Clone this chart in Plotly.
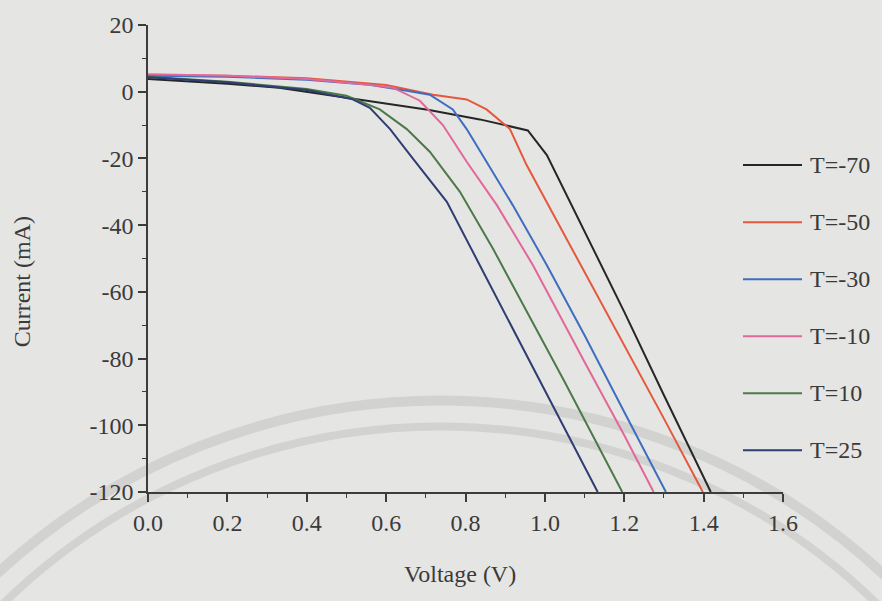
import plotly.graph_objects as go

# I-V curves of the cell at several temperatures (voltage in V, current in mA)
names = ["T=-70", "T=-50", "T=-30", "T=-10", "T=10", "T=25"]
colors = ["#262626", "#e5583d", "#3e6dc2", "#e2679a", "#4b7a48", "#2f3d72"]

v_m70 = [0, 0.1, 0.2, 0.33, 0.5, 0.6, 0.705, 0.836, 0.957, 1.005, 1.1, 1.2, 1.3, 1.418]
i_m70 = [3.8, 3.2, 2.4, 1.2, -1.8, -3.5, -5.4, -8.3, -11.6, -19, -42, -66, -91, -120]

v_m50 = [0, 0.2, 0.4, 0.6, 0.718, 0.803, 0.853, 0.912, 0.954, 1.1, 1.2, 1.3, 1.398]
i_m50 = [5.0, 4.8, 4.0, 2.0, -0.9, -2.3, -5.3, -11.2, -22, -54, -76, -98, -120]

v_m30 = [0, 0.2, 0.4, 0.55, 0.652, 0.71, 0.768, 0.803, 0.853, 0.919, 1.005, 1.1, 1.2, 1.305]
i_m30 = [4.8, 4.5, 3.6, 2.2, 0.3, -0.9, -5.3, -11.2, -21, -34, -52, -73, -96, -120]

v_m10 = [0, 0.2, 0.4, 0.55, 0.617, 0.685, 0.743, 0.803, 0.879, 0.97, 1.1, 1.2, 1.274]
i_m10 = [5.2, 4.8, 3.8, 2.2, 1.2, -2.7, -10, -21, -34, -52, -81, -103, -120]

v_p10 = [0, 0.2, 0.4, 0.5, 0.584, 0.652, 0.71, 0.786, 0.869, 0.95, 1.05, 1.195]
i_p10 = [4.5, 3.0, 0.8, -1.2, -5.3, -11.2, -18, -30, -47, -65, -87, -120]

v_p25 = [0, 0.2, 0.4, 0.516, 0.559, 0.61, 0.667, 0.753, 0.836, 0.93, 1.03, 1.133]
i_p25 = [4.3, 2.8, 0.5, -2.3, -4.8, -11.2, -20, -33, -52, -73.5, -96.4, -120]

volts = [v_m70, v_m50, v_m30, v_m10, v_p10, v_p25]
currents = [i_m70, i_m50, i_m30, i_m10, i_p10, i_p25]

x_ticks = [0.0, 0.2, 0.4, 0.6, 0.8, 1.0, 1.2, 1.4, 1.6]
x_tick_text = ["0.0", "0.2", "0.4", "0.6", "0.8", "1.0", "1.2", "1.4", "1.6"]
y_ticks = [-120, -100, -80, -60, -40, -20, 0, 20]
y_tick_text = ["-120", "-100", "-80", "-60", "-40", "-20", "0", "20"]

W, H = 882, 601
ML, MR, MT, MB = 148, 99, 22, 109
PW, PH = W - ML - MR, H - MT - MB

def px_x(px):
    return (px - ML) / PW

def px_y(py):
    return (H - MB - py) / PH

FONT = "Liberation Serif, Times New Roman, serif"
INK = "#3a3a3a"
BG = "#e5e5e3"

fig = go.Figure()
for v, i, name, col in zip(volts, currents, names, colors):
    fig.add_trace(go.Scatter(x=v, y=i, mode="lines", name=name,
                             line=dict(color=col, width=2), showlegend=False))

shapes = []
# faint circular emblem printed behind the chart
for r, w in [(650, 10), (624, 8)]:
    cx, cy = 440, 1050
    shapes.append(dict(type="circle", xref="paper", yref="paper", layer="below",
                       x0=px_x(cx - r), x1=px_x(cx + r), y0=px_y(cy + r), y1=px_y(cy - r),
                       line=dict(color="#d2d2d0", width=w)))

# legend drawn to the right of the axes
annotations = []
for k, (name, col) in enumerate(zip(names, colors)):
    py = 163 + k * 57.4
    shapes.append(dict(type="line", xref="paper", yref="paper",
                       x0=px_x(743), x1=px_x(802), y0=px_y(py), y1=px_y(py),
                       line=dict(color=col, width=2)))
    annotations.append(dict(text=name, xref="paper", yref="paper", x=px_x(808), y=px_y(py),
                            xanchor="left", yanchor="middle", showarrow=False,
                            font=dict(family=FONT, size=24, color=INK)))

annotations.append(dict(text="Voltage (V)", xref="paper", yref="paper", x=px_x(460), y=px_y(575),
                        xanchor="center", yanchor="middle", showarrow=False,
                        font=dict(family=FONT, size=24, color=INK)))
annotations.append(dict(text="Current (mA)", xref="paper", yref="paper", x=px_x(22), y=px_y(281),
                        xanchor="center", yanchor="middle", showarrow=False, textangle=-90,
                        font=dict(family=FONT, size=24, color=INK)))

axis_common = dict(showgrid=False, zeroline=False, showline=True, linecolor="#3c3c3c",
                   linewidth=1.6, ticks="outside", ticklen=8, tickwidth=1.6, tickcolor="#3c3c3c",
                   tickfont=dict(family=FONT, size=24, color=INK))

fig.update_layout(
    width=W, height=H,
    margin=dict(l=ML, r=MR, t=MT, b=MB),
    paper_bgcolor=BG, plot_bgcolor="rgba(0,0,0,0)",
    shapes=shapes, annotations=annotations,
    xaxis=dict(range=[0, 1.6], tickvals=x_ticks, ticktext=x_tick_text,
               minor=dict(dtick=0.1, ticks="outside", ticklen=4, tickwidth=1.4, tickcolor="#3c3c3c"),
               **axis_common),
    yaxis=dict(range=[-120, 20], tickvals=y_ticks, ticktext=y_tick_text,
               minor=dict(dtick=10, ticks="outside", ticklen=4, tickwidth=1.4, tickcolor="#3c3c3c"),
               **axis_common),
)

fig.write_html("out.html")
